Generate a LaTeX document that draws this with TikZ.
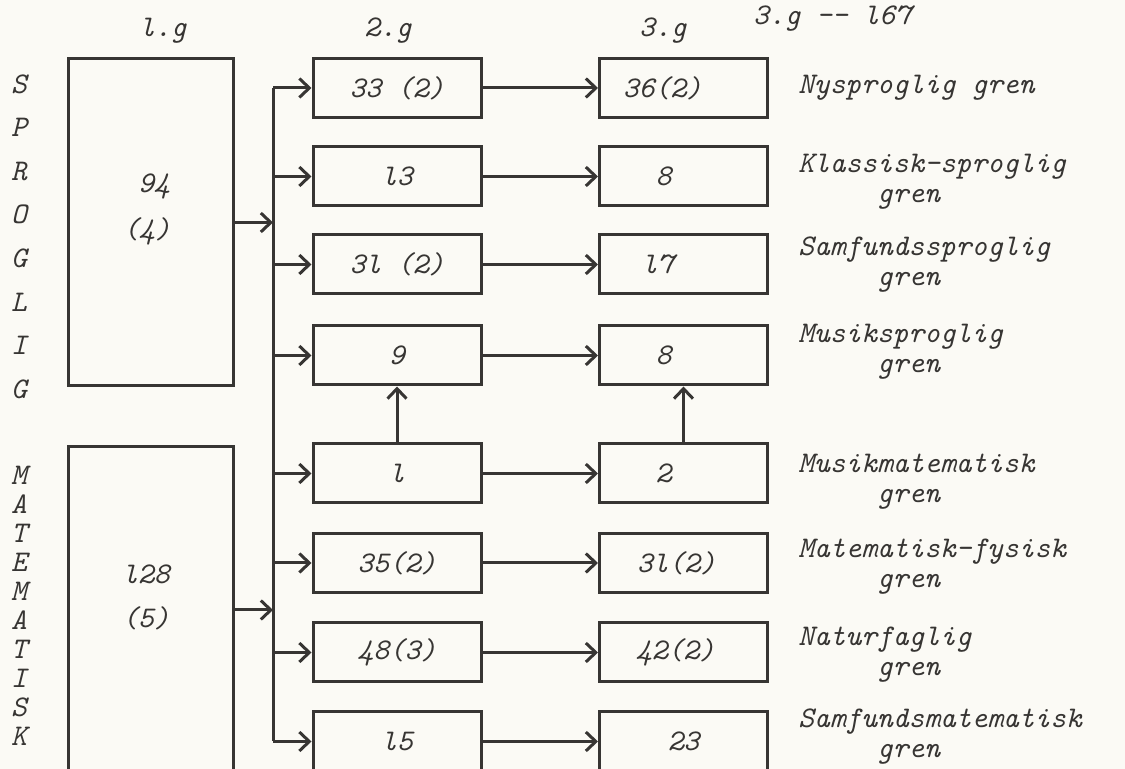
\documentclass[tikz,border=0pt]{standalone}
\usepackage{tikz}
\usetikzlibrary{arrows.meta,positioning,calc}
\definecolor{ink}{RGB}{55,53,51}
\definecolor{paper}{RGB}{251,250,245}

\begin{document}
\begin{tikzpicture}[x=0.5pt,y=-0.5pt,
  font=\fontsize{15}{15}\selectfont\ttfamily\itshape,
  every node/.style={text=ink},
  box/.style={draw=ink,line width=1.5pt,minimum width=84pt,minimum height=29.5pt,inner sep=0pt},
  gym/.style={draw=ink,line width=1.5pt,minimum width=82.5pt,minimum height=163.5pt,inner sep=0pt},
  wire/.style={draw=ink,line width=1.5pt},
  flow/.style={wire,-{Straight Barb[length=5pt,width=9.5pt]}},
  gren/.style={anchor=west,align=left,inner sep=0pt}]
\fill[paper] (0,0) rectangle (1125,769);
\useasboundingbox (0,0) rectangle (1125,769);

\node (h1) at (163,31) {l.g};
\node (h2) at (388,31) {2.g};
\node (h3) at (663,31) {3.g};
\node (total) at (832,19) {3.g -{}- l67};

\foreach \c [count=\i from 0] in {S,P,R,O,G,L,I,G}
  \node (sp\i) at (19,{84+43.6*\i}) {\c};
\foreach \c [count=\i from 0] in {M,A,T,E,M,A,T,I,S,K}
  \node (ma\i) at (19,{475+29*\i}) {\c};

\node[gym] (sprog) at (150.5,222.5) {};
\node[gym] (mat) at (151,610) {};
\node (sprog-n) at (154,187) {94};
\node (sprog-k) at (147,231) {(4)};
\node (mat-n) at (146,574) {l28};
\node (mat-k) at (146,618) {(5)};

\node[box] (ny2) at (397,88) {33 (2)};
\node[box] (kl2) at (397,176.5) {l3};
\node[box] (sam2) at (397,264.5) {3l (2)};
\node[box] (mus2) at (397,355.5) {9};
\node[box] (mm2) at (397,473.5) {l};
\node[box] (mf2) at (397,563) {35(2)};
\node[box] (nat2) at (397,652.5) {48(3)};
\node[box] (sm2) at (397,741.5) {l5};

\node[box,label={[xshift=-10.5pt]center:36(2)}] (ny3) at (683.5,88) {};
\node[box,label={[xshift=-10pt]center:8}] (kl3) at (683.5,176.5) {};
\node[box,label={[xshift=-13pt]center:l7}] (sam3) at (683.5,264.5) {};
\node[box,label={[xshift=-10pt]center:8}] (mus3) at (683.5,355.5) {};
\node[box,label={[xshift=-10pt]center:2}] (mm3) at (683.5,473.5) {};
\node[box,label={[xshift=-3.5pt]center:3l(2)}] (mf3) at (683.5,563) {};
\node[box,label={[xshift=-4pt]center:42(2)}] (nat3) at (683.5,652.5) {};
\node[box] (sm3) at (683.5,741.5) {23};

\node[gren] (ny) at (798,88) {Nysproglig gren};
\node[gren] (kl) at (798,182) {Klassisk-sproglig\\\phantom{00000}gren};
\node[gren] (sam) at (798,265) {Samfundssproglig\\\phantom{00000}gren};
\node[gren] (mus) at (798,352) {Musiksproglig\\\phantom{00000}gren};
\node[gren] (mm) at (798,482) {Musikmatematisk\\\phantom{00000}gren};
\node[gren] (mf) at (798,567) {Matematisk-fysisk\\\phantom{00000}gren};
\node[gren] (nat) at (798,655) {Naturfaglig\\\phantom{00000}gren};
\node[gren] (sm) at (798,737) {Samfundsmatematisk\\\phantom{00000}gren};

\coordinate (bus) at (273,0);
\draw[wire] (bus |- ny2.west) -- (bus |- sm2.west);
\draw[flow] (sprog.east) -- (sprog.east -| bus);
\draw[flow] (mat.east) -- (mat.east -| bus);
\foreach \r in {ny,kl,sam,mus,mm,mf,nat,sm} {
  \draw[flow] (bus |- \r2.west) -- (\r2.west);
  \draw[flow] (\r2.east) -- (\r3.west);
}
\draw[flow] (mm2.north) -- (mus2.south);
\draw[flow] (mm3.north) -- (mus3.south);
\end{tikzpicture}
\end{document}
